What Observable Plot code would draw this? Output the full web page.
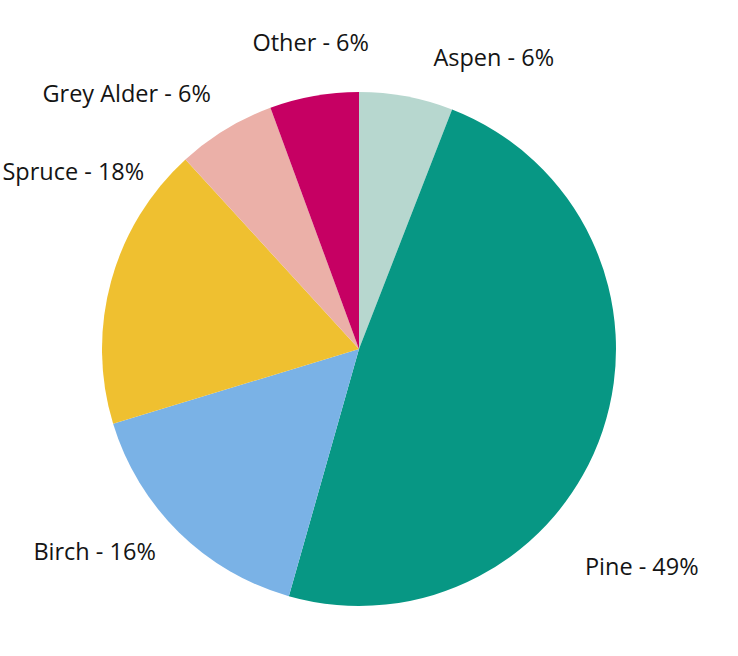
<!DOCTYPE html>
<html>
<head>
<meta charset="utf-8">
<script src="https://cdn.jsdelivr.net/npm/d3@7"></script>
<script src="https://cdn.jsdelivr.net/npm/@observablehq/plot@0.6"></script>
<style>
  html, body { margin: 0; padding: 0; background: #fff; }
  #chart svg { display: block; }
</style>
</head>
<body>
<div id="chart"></div>
<script>
// Data (clockwise from 12 o'clock)
const species = ["Aspen", "Pine", "Birch", "Spruce", "Grey Alder", "Other"];
const shares = [5.9, 48.5, 15.9, 17.9, 6.2, 5.6];
const shareLabels = ["6%", "49%", "16%", "18%", "6%", "6%"];
const colors = ["#b7d7cf", "#079784", "#7ab2e6", "#efc030", "#ebb0a8", "#c60063"];

// Layout (not data): where within its slice each label sits (fraction of slice angle, radius in pie radii)
const labelLayout = {
  Aspen: [0.67, 1.17],
  Pine: [0.646, 1.22],
  Birch: [0.51, 1.12],
  Spruce: [0.875, 1.085],
  "Grey Alder": [0.55, 1.15],
  Other: [0.55, 1.205]
};

const W = 738, H = 656, CX = 359, CY = 349, R = 257;

const arcs = d3.pie().sort(null).value(d => d.share)(
  species.map((name, i) => ({name, share: shares[i], label: shareLabels[i]}))
);
const slices = arcs.map(a => {
  const [f, lr] = labelLayout[a.data.name] ?? [0.5, 1.16];
  const ang = a.startAngle + f * (a.endAngle - a.startAngle);
  const s = Math.sin(ang);
  return {
    ...a.data,
    startAngle: a.startAngle,
    endAngle: a.endAngle,
    lx: lr * s,
    ly: lr * Math.cos(ang),
    anchor: Math.abs(s) < 0.2 ? "middle" : (s > 0 ? "start" : "end")
  };
});

const pie = Plot.dot(slices, {
  x: () => 0,
  y: () => 0,
  fill: "name",
  render: (index, scales, values) => {
    const cx = scales.x(0), cy = scales.y(0);
    const rad = scales.x(1) - scales.x(0);
    const arc = d3.arc().innerRadius(0).outerRadius(rad);
    const g = d3.create("svg:g").attr("transform", `translate(${cx},${cy})`);
    for (const i of index) {
      g.append("path")
        .attr("d", arc({startAngle: slices[i].startAngle, endAngle: slices[i].endAngle}))
        .attr("fill", values.fill[i]);
    }
    return g.node();
  }
});

const labels = anchor => Plot.text(slices.filter(d => d.anchor === anchor), {
  x: "lx",
  y: "ly",
  text: d => `${d.name} - ${d.label}`,
  textAnchor: anchor,
  fill: "#141414",
  fontSize: 23.5
});

const chart = Plot.plot({
  width: W,
  height: H,
  margin: 0,
  style: {fontFamily: "'Open Sans', sans-serif", background: "#fff"},
  x: {domain: [-CX / R, (W - CX) / R], range: [0, W], axis: null},
  y: {domain: [CY / R, -(H - CY) / R], range: [0, H], axis: null},
  color: {domain: species, range: colors},
  marks: [pie, labels("start"), labels("middle"), labels("end")]
});

document.getElementById("chart").append(chart);
</script>
</body>
</html>
